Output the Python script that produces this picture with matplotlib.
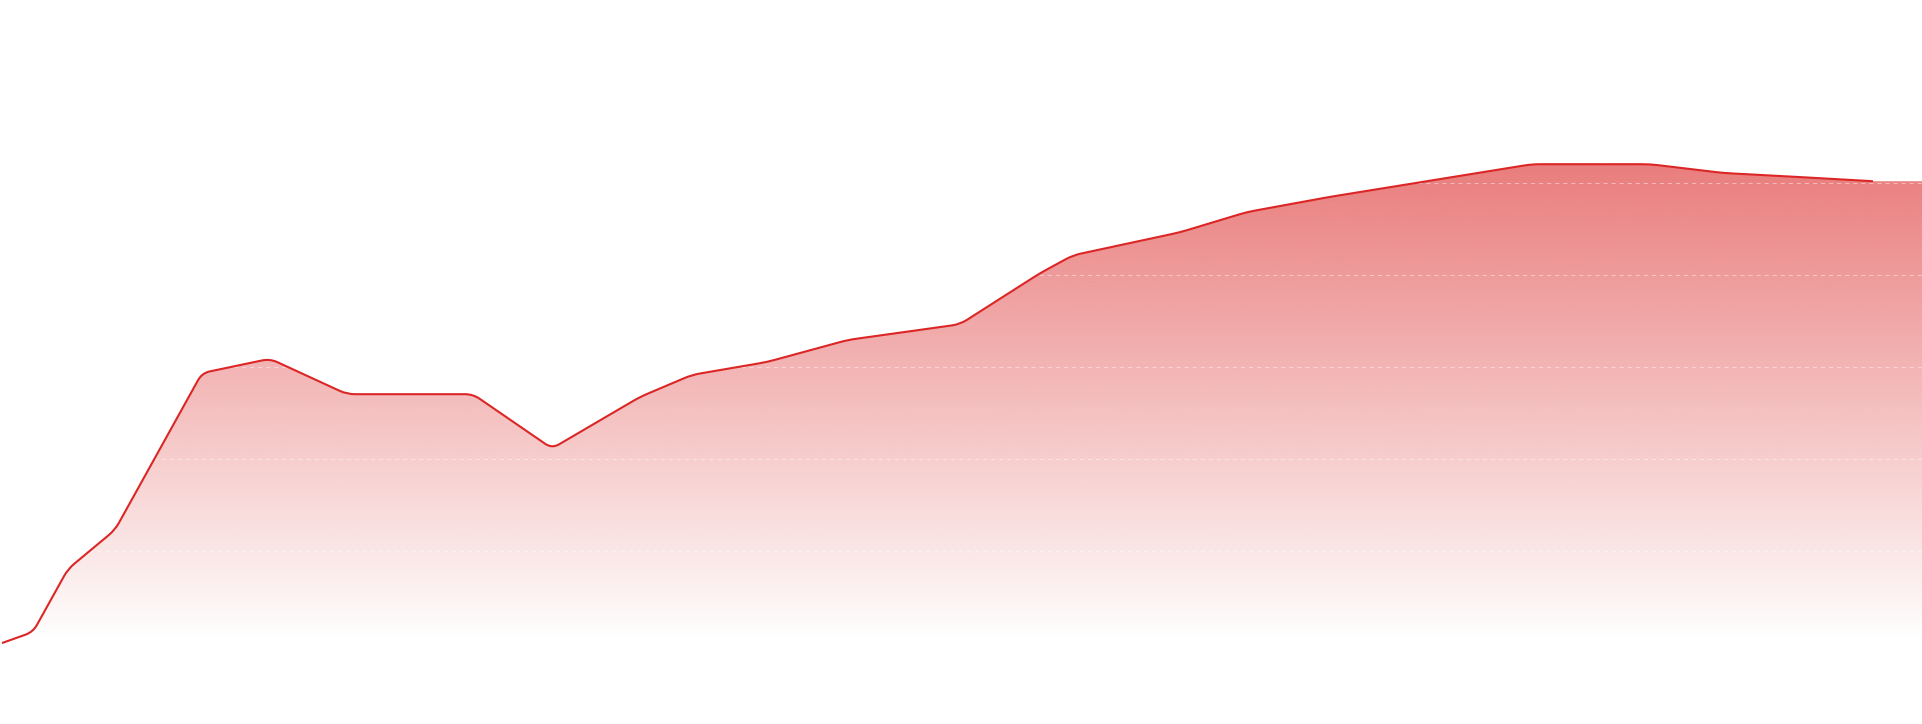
import matplotlib
matplotlib.use('Agg')
import matplotlib.pyplot as plt
import numpy as np
from matplotlib.path import Path
from matplotlib.patches import PathPatch

# time positions and values of the series
t = [2, 33, 68, 115, 202, 270, 347, 473, 552, 640, 692, 767, 848, 960,
     1040, 1073, 1180, 1247, 1330, 1532, 1650, 1723, 1800, 1873]
values = [0, 2.4, 16.1, 24.6, 58.7, 61.8, 54.1, 54.1, 42.3, 53.5, 58.3, 61.1,
          65.9, 69.3, 80.4, 84.3, 89.3, 93.7, 97.0, 104.1, 104.1, 102.2, 101.3, 100.4]
grid_levels = [20, 40, 60, 80, 100]

line_color = '#dc2626'


def rounded(ax, xs, ys, radius=8):
    # round the corners in screen space, then go back to data coords
    pts = ax.transData.transform(np.column_stack([xs, ys]))
    verts = [pts[0]]
    codes = [Path.MOVETO]
    for i in range(1, len(pts) - 1):
        p, v, n = pts[i-1], pts[i], pts[i+1]
        d1 = np.linalg.norm(v - p)
        d2 = np.linalg.norm(n - v)
        r = min(radius, d1 / 2, d2 / 2)
        a = v - (v - p) / d1 * r
        b = v + (n - v) / d2 * r
        verts += [a, v, b]
        codes += [Path.LINETO, Path.CURVE3, Path.CURVE3]
    verts.append(pts[-1])
    codes.append(Path.LINETO)
    verts = ax.transData.inverted().transform(np.array(verts))
    return list(map(tuple, verts)), codes


fig = plt.figure(figsize=(19.22, 7.24), dpi=100)
ax = fig.add_axes([0, 0, 1, 1])
ax.set_axis_off()
ax.set_xlim(0, 1922)
ax.set_ylim(-17.6, 139.8)

verts, codes = rounded(ax, t, values)
line_path = Path(verts, codes)

# area under the line, carried on to the right edge
xmax = ax.get_xlim()[1]
fverts = verts + [(xmax, values[-1]), (xmax, 0), (t[0], 0), (t[0], 0)]
fcodes = codes + [Path.LINETO, Path.LINETO, Path.LINETO, Path.CLOSEPOLY]
area = PathPatch(Path(fverts, fcodes), facecolor='none', edgecolor='none')
ax.add_patch(area)

rgb = matplotlib.colors.to_rgb(line_color)
grad = np.zeros((256, 1, 4))
grad[:, 0, :3] = rgb
grad[:, 0, 3] = np.linspace(0.6, 0.0, 256)
im = ax.imshow(grad, extent=[0, xmax, 0, max(values)], origin='upper',
               aspect='auto', interpolation='bilinear', zorder=1)
im.set_clip_path(area)

lw = 0.75
for g in grid_levels:
    ax.axhline(g, color='white', alpha=0.45, lw=lw, dashes=(2.9 / lw, 2.9 / lw), zorder=2)

ax.add_patch(PathPatch(line_path, fill=False, edgecolor=line_color, lw=1.5,
                       joinstyle='round', capstyle='butt', zorder=3))

ax.set_xlim(0, 1922)
ax.set_ylim(-17.6, 139.8)
plt.savefig('out.png', dpi=100)
